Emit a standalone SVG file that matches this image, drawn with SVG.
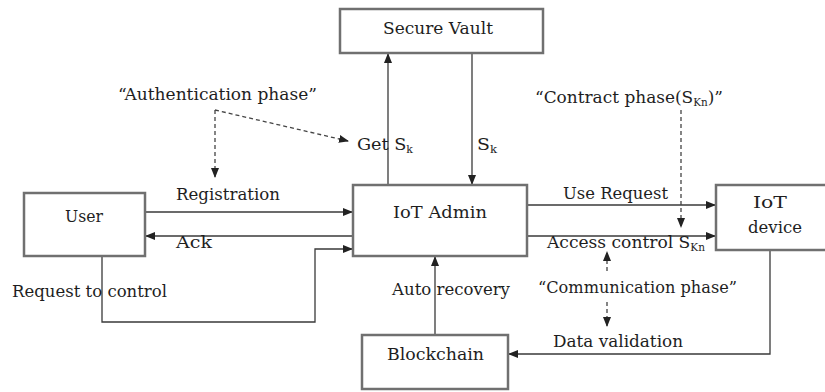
<svg xmlns="http://www.w3.org/2000/svg" width="825" height="392" viewBox="0 0 825 392">
  <style>
    .box { fill: #ffffff; stroke: #707070; stroke-width: 2.5; }
    .line { fill: none; stroke: #3a3a3a; stroke-width: 1.3; }
    .dash { fill: none; stroke: #444444; stroke-width: 1.3; stroke-dasharray: 4 3; }
    text { font-family: "DejaVu Serif", "Liberation Serif", serif; font-size: 17px; fill: #1e1e1e; }
    .sub { font-size: 10.5px; }
  </style>
  <defs>
    <marker id="arrow" markerUnits="userSpaceOnUse" markerWidth="10" markerHeight="8" refX="9" refY="4" orient="auto">
      <path d="M0,0 L10,4 L0,8 z" fill="#222222"/>
    </marker>
  </defs>
  <rect width="825" height="392" fill="#ffffff"/>

  <!-- connectors -->
  <g id="connectors">
    <line class="line" x1="388" y1="185" x2="388" y2="54" marker-end="url(#arrow)"/>
    <line class="line" x1="472" y1="53" x2="472" y2="184" marker-end="url(#arrow)"/>
    <line class="line" x1="145" y1="212" x2="352" y2="212" marker-end="url(#arrow)"/>
    <line class="line" x1="353" y1="236" x2="146" y2="236" marker-end="url(#arrow)"/>
    <path class="line" d="M102 256 V322 H315 V249 H352" marker-end="url(#arrow)"/>
    <line class="line" x1="527" y1="205" x2="715" y2="205" marker-end="url(#arrow)"/>
    <line class="line" x1="527" y1="236" x2="715" y2="236" marker-end="url(#arrow)"/>
    <path class="line" d="M770 250 V354 H509" marker-end="url(#arrow)"/>
    <line class="line" x1="435" y1="335" x2="435" y2="257" marker-end="url(#arrow)"/>
    <!-- phase annotations -->
    <path class="dash" d="M215 110 L348 141" marker-end="url(#arrow)"/>
    <path class="dash" d="M215 110 V177" marker-end="url(#arrow)"/>
    <path class="dash" d="M681 110 V227" marker-end="url(#arrow)"/>
    <path class="dash" d="M607 271 V252" marker-end="url(#arrow)"/>
    <path class="dash" d="M607 302 V326" marker-end="url(#arrow)"/>

    <text x="118" y="100" textLength="199" lengthAdjust="spacingAndGlyphs">“Authentication phase”</text>
    <text x="535" y="103" textLength="188" lengthAdjust="spacingAndGlyphs">“Contract phase(S<tspan class="sub" dy="3">Kn</tspan><tspan dy="-3">)”</tspan></text>
    <text x="357" y="150" textLength="56" lengthAdjust="spacingAndGlyphs">Get S<tspan class="sub" dy="3">k</tspan></text>
    <text x="477" y="150" textLength="20" lengthAdjust="spacingAndGlyphs">S<tspan class="sub" dy="3">k</tspan></text>
    <text x="176" y="200" textLength="104" lengthAdjust="spacingAndGlyphs">Registration</text>
    <text x="176" y="248" textLength="36" lengthAdjust="spacingAndGlyphs">Ack</text>
    <text x="12" y="297" textLength="155" lengthAdjust="spacingAndGlyphs">Request to control</text>
    <text x="563" y="199" textLength="105" lengthAdjust="spacingAndGlyphs">Use Request</text>
    <text x="547" y="248" textLength="158" lengthAdjust="spacingAndGlyphs">Access control S<tspan class="sub" dy="3">Kn</tspan></text>
    <text x="392" y="295" textLength="118" lengthAdjust="spacingAndGlyphs">Auto recovery</text>
    <text x="538" y="293" textLength="199" lengthAdjust="spacingAndGlyphs">“Communication phase”</text>
    <text x="553" y="347" textLength="130" lengthAdjust="spacingAndGlyphs">Data validation</text>
  </g>

  <!-- nodes -->
  <g id="secure-vault">
    <rect class="box" x="340" y="9" width="203" height="44"/>
    <text x="383" y="34" textLength="110" lengthAdjust="spacingAndGlyphs">Secure Vault</text>
  </g>
  <g id="user">
    <rect class="box" x="24" y="193" width="121" height="63"/>
    <text x="65" y="222" textLength="38" lengthAdjust="spacingAndGlyphs">User</text>
  </g>
  <g id="iot-admin">
    <rect class="box" x="353" y="185" width="174" height="71"/>
    <text x="393" y="218" textLength="94" lengthAdjust="spacingAndGlyphs">IoT Admin</text>
  </g>
  <g id="iot-device">
    <rect class="box" x="716" y="185" width="120" height="65"/>
    <text x="753" y="208" textLength="34" lengthAdjust="spacingAndGlyphs">IoT</text>
    <text x="748" y="233" textLength="54" lengthAdjust="spacingAndGlyphs">device</text>
  </g>
  <g id="blockchain">
    <rect class="box" x="362" y="335" width="146" height="54"/>
    <text x="387" y="360" textLength="97" lengthAdjust="spacingAndGlyphs">Blockchain</text>
  </g>
</svg>
